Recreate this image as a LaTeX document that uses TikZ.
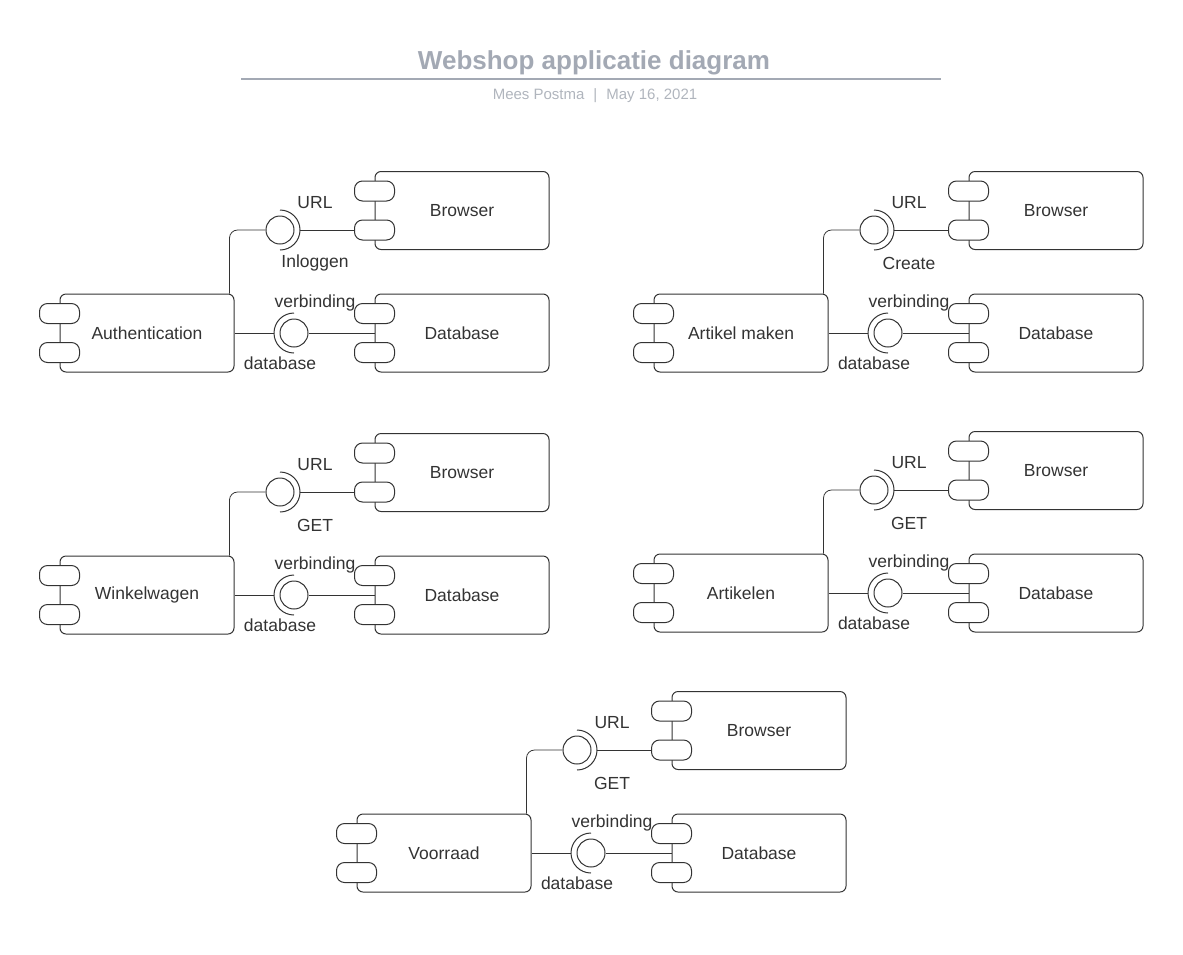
\documentclass[tikz,border=0pt]{standalone}
\usepackage{fontspec}
\setmainfont{Liberation Sans}
\usetikzlibrary{calc,positioning}
\definecolor{titlegray}{HTML}{A3A9B4}
\definecolor{subgray}{HTML}{B0B5BD}
\definecolor{linegray}{HTML}{333333}

\begin{document}
\begin{tikzpicture}[x=1pt,y=-1pt,
	every node/.style={font=\fontsize{17.5}{21}\selectfont, text=linegray},
	comp/.style={draw=linegray, line width=1pt, rounded corners=6pt,
		minimum width=174pt, minimum height=78pt, inner sep=0pt},
	tab/.style={draw=linegray, line width=1pt, fill=white, rounded corners=8pt,
		minimum width=40pt, minimum height=20pt, inner sep=0pt},
	ball/.style={draw=linegray, line width=1pt, circle, minimum size=28pt, inner sep=0pt},
	wire/.style={draw=linegray, line width=0.8pt}]

	\useasboundingbox (0,0) rectangle (1183,954);

	% title block
	\node[font=\fontsize{26}{30}\selectfont\bfseries, text=titlegray] (title) at (594,63) {Webshop applicatie diagram};
	\draw[titlegray, line width=2pt] (241,79) -- (941,79);
	\node[font=\fontsize{15}{18}\selectfont, text=subgray] (sub) at (595,96)
		{Mees Postma\hspace{0.6em}|\hspace{0.6em}May 16, 2021};

	\foreach \gx/\gy/\gname/\gurl [count=\i] in {0/0/Authentication/Inloggen,
		594/0/Artikel maken/Create, 0/262/Winkelwagen/GET,
		594/260/Artikelen/GET, 297/520/Voorraad/GET}{
	\begin{scope}[shift={(\gx,\gy)}]
		% components
		\node[comp] (main\i) at (147,333) {\gname};
		\node[tab] (maina\i) at ([yshift=19.5pt]main\i.west) {};
		\node[tab] (mainb\i) at ([yshift=-19.5pt]main\i.west) {};

		\node[comp] (brw\i) at (462,210.5) {Browser};
		\node[tab] (brwa\i) at ([yshift=19.5pt]brw\i.west) {};
		\node[tab] (brwb\i) at ([yshift=-19.5pt]brw\i.west) {};

		\node[comp] (db\i) at (462,333) {Database};
		\node[tab] (dba\i) at ([yshift=19.5pt]db\i.west) {};
		\node[tab] (dbb\i) at ([yshift=-19.5pt]db\i.west) {};

		% interfaces
		\node[ball] (url\i) at (280,230) {};
		\draw[wire, line width=1pt] ([yshift=-20pt]url\i.center) arc[start angle=-90, end angle=90, radius=20pt];
		\node[ball] (con\i) at (294,333) {};
		\draw[wire, line width=1pt] ([yshift=20pt]con\i.center) arc[start angle=90, end angle=270, radius=20pt];

		% connectors
		\draw[wire, rounded corners=8pt] (url\i.west) -| ([xshift=-5pt]main\i.north east);
		\draw[wire] ([xshift=20pt]url\i.center) -- (brwb\i.west);
		\draw[wire] (main\i.east) -- ([xshift=-20pt]con\i.center);
		\draw[wire] (con\i.east) -- (db\i.west);

		% labels
		\node (urlt\i) at ([shift={(35,-27)}]url\i.center) {URL};
		\node (urlb\i) at ([shift={(35,33)}]url\i.center) {\gurl};
		\node (cont\i) at ([shift={(21,-30)}]con\i.center) {verbinding};
		\node (conb\i) at ([shift={(-14,30)}]con\i.center) {database};
	\end{scope}
	}
\end{tikzpicture}
\end{document}
